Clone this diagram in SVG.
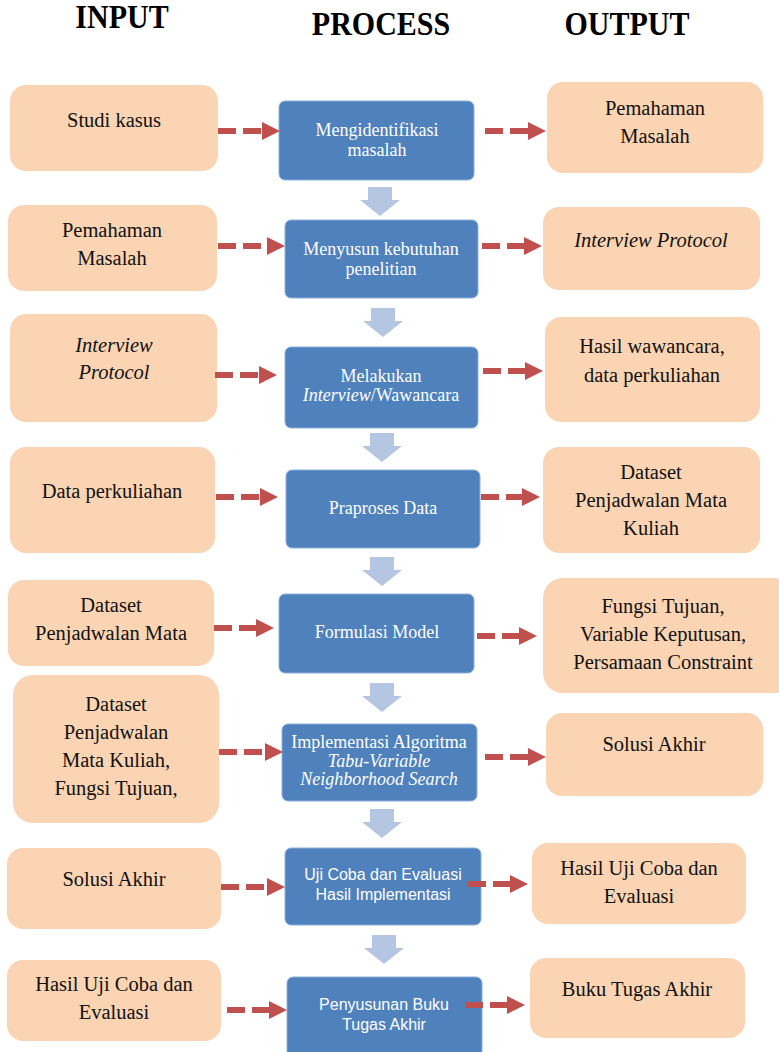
<svg xmlns="http://www.w3.org/2000/svg" width="779" height="1052" viewBox="0 0 779 1052">
<style>
.hdr{font-family:"Liberation Serif",serif;font-weight:bold;font-size:30px;fill:#000;text-anchor:middle}
.io rect{fill:#FAD4B3}
.io text{font-family:"Liberation Serif",serif;font-size:20.5px;fill:#111;text-anchor:middle}
.pr rect{fill:#4F81BD;stroke:#8DB0DA;stroke-width:1}
.pr text{font-family:"Liberation Serif",serif;font-size:18px;fill:#fff;text-anchor:middle}
.pr text.sans{font-family:"Liberation Sans",sans-serif;font-size:16px}
.it{font-style:italic}
.dash{stroke:#C0504D;stroke-width:6;stroke-dasharray:18 7;fill:none}
.blk{fill:#B4C6E2}
</style>
<defs>
<marker id="head" markerUnits="userSpaceOnUse" markerWidth="18" markerHeight="18" refX="0" refY="9" orient="auto">
<path d="M0,0 L18,9 L0,18 Z" fill="#C0504D"/>
</marker>
<path id="down" d="M-12,0 H12 V13 H20 L0,29 L-20,13 H-12 Z"/>
</defs>

<g id="headers">
<text class="hdr" transform="translate(122,28) scale(1,1.1)">INPUT</text>
<text class="hdr" transform="translate(381,35) scale(1,1.1)">PROCESS</text>
<text class="hdr" transform="translate(627,35) scale(1,1.1)">OUTPUT</text>
</g>

<!-- Input column -->
<g id="in1" class="io"><rect x="10" y="85" width="208" height="86" rx="16"/><text x="114" y="127">Studi kasus</text></g>
<g id="in2" class="io"><rect x="8" y="205" width="209" height="86" rx="16"/><text x="112" y="237">Pemahaman</text><text x="112" y="265">Masalah</text></g>
<g id="in3" class="io"><rect x="10" y="314" width="207" height="108" rx="16"/><text class="it" x="114" y="352">Interview</text><text class="it" x="114" y="379">Protocol</text></g>
<g id="in4" class="io"><rect x="10" y="447" width="205" height="106" rx="16"/><text x="112" y="498">Data perkuliahan</text></g>
<g id="in5" class="io"><rect x="8" y="580" width="206" height="86" rx="16"/><text x="111" y="612">Dataset</text><text x="111" y="640">Penjadwalan Mata</text></g>
<g id="in6" class="io"><rect x="13" y="675" width="206" height="148" rx="20"/><text x="116" y="711">Dataset</text><text x="116" y="739">Penjadwalan</text><text x="116" y="767">Mata Kuliah,</text><text x="116" y="795">Fungsi Tujuan,</text></g>
<g id="in7" class="io"><rect x="7" y="848" width="214" height="81" rx="16"/><text x="114" y="886">Solusi Akhir</text></g>
<g id="in8" class="io"><rect x="7" y="960" width="214" height="81" rx="16"/><text x="114" y="991">Hasil Uji Coba dan</text><text x="114" y="1019">Evaluasi</text></g>

<!-- Process column -->
<g id="p1" class="pr"><rect x="279" y="101" width="195" height="79" rx="6"/><text x="377" y="136">Mengidentifikasi</text><text x="377" y="156">masalah</text></g>
<g id="p2" class="pr"><rect x="285" y="220" width="193" height="78" rx="6"/><text x="381" y="255">Menyusun kebutuhan</text><text x="381" y="275">penelitian</text></g>
<g id="p3" class="pr"><rect x="285" y="347" width="193" height="81" rx="6"/><text x="381" y="382">Melakukan</text><text x="381" y="401"><tspan class="it">Interview</tspan>/Wawancara</text></g>
<g id="p4" class="pr"><rect x="286" y="470" width="194" height="78" rx="6"/><text x="383" y="514">Praproses Data</text></g>
<g id="p5" class="pr"><rect x="279" y="594" width="195" height="79" rx="6"/><text x="377" y="638">Formulasi Model</text></g>
<g id="p6" class="pr"><rect x="282" y="724" width="195" height="77" rx="6"/><text x="379" y="748">Implementasi Algoritma</text><text class="it" x="379" y="767">Tabu-Variable</text><text class="it" x="379" y="785">Neighborhood Search</text></g>
<g id="p7" class="pr"><rect x="285" y="848" width="196" height="77" rx="6"/><text class="sans" x="383" y="880">Uji Coba dan Evaluasi</text><text class="sans" x="383" y="900">Hasil Implementasi</text></g>
<g id="p8" class="pr"><rect x="287" y="977" width="195" height="85" rx="6"/><text class="sans" x="384" y="1010">Penyusunan Buku</text><text class="sans" x="384" y="1030">Tugas Akhir</text></g>

<!-- Output column -->
<g id="o1" class="io"><rect x="547" y="82" width="216" height="91" rx="16"/><text x="655" y="115">Pemahaman</text><text x="655" y="143">Masalah</text></g>
<g id="o2" class="io"><rect x="543" y="207" width="217" height="83" rx="16"/><text class="it" x="651" y="247">Interview Protocol</text></g>
<g id="o3" class="io"><rect x="545" y="317" width="215" height="105" rx="16"/><text x="652" y="353">Hasil wawancara,</text><text x="652" y="382">data perkuliahan</text></g>
<g id="o4" class="io"><rect x="543" y="447" width="217" height="106" rx="16"/><text x="651" y="479">Dataset</text><text x="651" y="507">Penjadwalan Mata</text><text x="651" y="535">Kuliah</text></g>
<g id="o5" class="io"><rect x="543" y="578" width="252" height="115" rx="20"/><text x="663" y="613">Fungsi Tujuan,</text><text x="663" y="641">Variable Keputusan,</text><text x="663" y="669">Persamaan Constraint</text></g>
<g id="o6" class="io"><rect x="546" y="713" width="217" height="83" rx="16"/><text x="654" y="751">Solusi Akhir</text></g>
<g id="o7" class="io"><rect x="532" y="843" width="214" height="81" rx="16"/><text x="639" y="875">Hasil Uji Coba dan</text><text x="639" y="903">Evaluasi</text></g>
<g id="o8" class="io"><rect x="530" y="958" width="215" height="80" rx="16"/><text x="637" y="996">Buku Tugas Akhir</text></g>

<!-- Connectors -->
<g id="connectors">
<g class="blk">
<use href="#down" x="380" y="187"/>
<use href="#down" x="383" y="308"/>
<use href="#down" x="382" y="433"/>
<use href="#down" x="382" y="557"/>
<use href="#down" x="382" y="683"/>
<use href="#down" x="382" y="809"/>
<use href="#down" x="384" y="935"/>
</g>
<g marker-end="url(#head)">
<line class="dash" x1="218" y1="131" x2="262" y2="131"/>
<line class="dash" x1="485" y1="131" x2="528" y2="131"/>
<line class="dash" x1="218" y1="246" x2="267" y2="246"/>
<line class="dash" x1="482" y1="246" x2="524" y2="246"/>
<line class="dash" x1="215" y1="375" x2="259" y2="375"/>
<line class="dash" x1="483" y1="371" x2="525" y2="371"/>
<line class="dash" x1="216" y1="497" x2="260" y2="497"/>
<line class="dash" x1="481" y1="497" x2="522" y2="497"/>
<line class="dash" x1="214" y1="628" x2="256" y2="628"/>
<line class="dash" x1="477" y1="636" x2="519" y2="636"/>
<line class="dash" x1="219" y1="752" x2="265" y2="752"/>
<line class="dash" x1="485" y1="757" x2="528" y2="757"/>
<line class="dash" x1="221" y1="887" x2="267" y2="887"/>
<line class="dash" x1="468" y1="884" x2="510" y2="884"/>
<line class="dash" x1="227" y1="1010" x2="269" y2="1010"/>
<line class="dash" x1="465" y1="1005" x2="507" y2="1005"/>
</g>
</g>
</svg>
